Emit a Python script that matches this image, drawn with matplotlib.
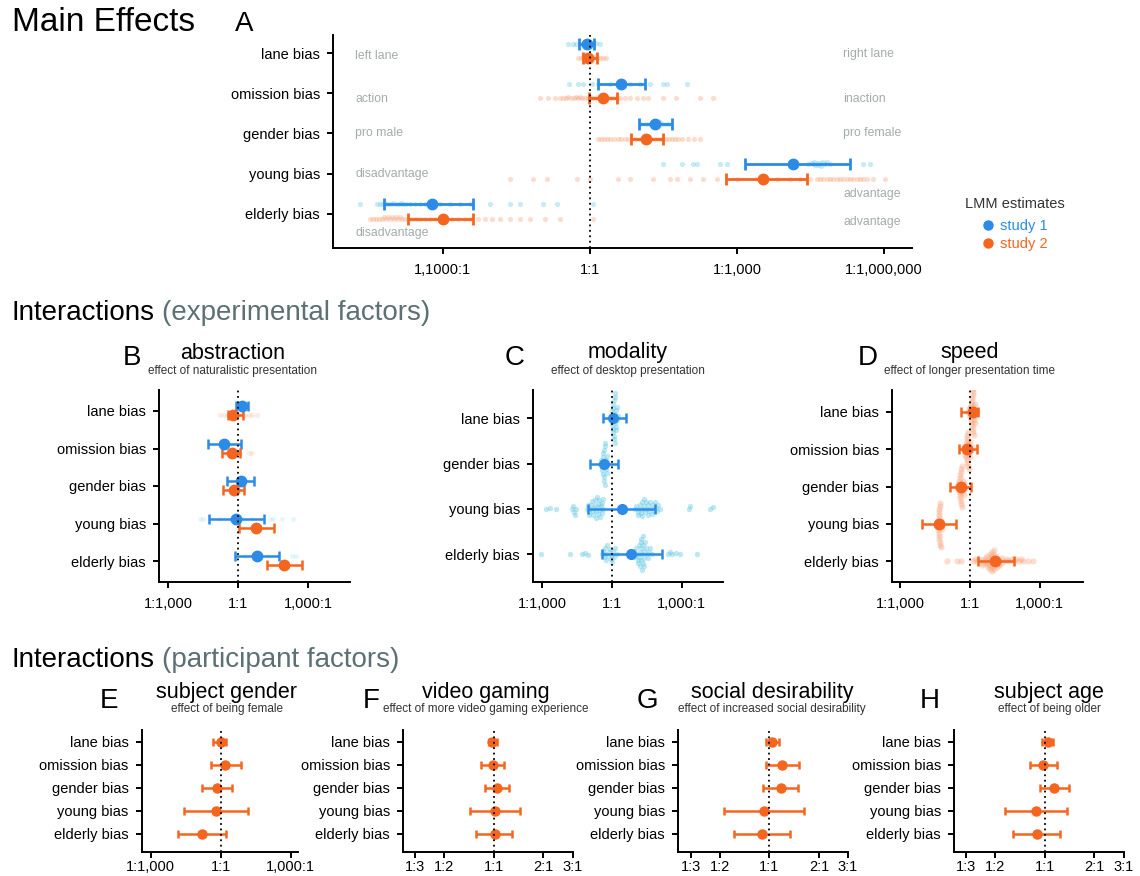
import numpy as np
import matplotlib
matplotlib.use("Agg")
import matplotlib.pyplot as plt

# ---------------- data (log10 odds ratios) ----------------
CATS5 = ["lane bias", "omission bias", "gender bias", "young bias", "elderly bias"]
CATS4 = ["lane bias", "gender bias", "young bias", "elderly bias"]

# Panel A main effects
A_s1_est = [-0.06, 0.63, 1.33, 4.14, -3.22]
A_s1_lo = [-0.22, 0.16, 1.00, 3.16, -4.20]
A_s1_hi = [0.08, 1.12, 1.67, 5.31, -2.39]
A_s2_est = [-0.04, 0.27, 1.14, 3.53, -3.00]
A_s2_lo = [-0.14, -0.02, 0.84, 2.78, -3.71]
A_s2_hi = [0.14, 0.55, 1.49, 4.43, -2.39]

A_s1_ind = [
    [-0.45, -0.35, -0.28, -0.2, -0.15, -0.12, -0.1, -0.08, -0.06, -0.04, -0.02, 0.0, 0.03, 0.07, 0.12, 0.2],
    [-0.43, -0.24, -0.14, 0.04, 0.16, 0.41, 0.61, 0.65, 0.82, 1.02, 1.22, 1.49, 1.57, 1.98],
    [1.05, 1.15, 1.22, 1.27, 1.3, 1.33, 1.35, 1.38, 1.42, 1.48, 1.55, 1.62],
    [1.49, 1.88, 2.1, 2.18, 2.65, 2.8, 4.45, 4.5, 4.55, 4.58, 4.6, 4.63, 4.66, 4.7, 4.72, 4.75,
     4.8, 4.84, 4.9, 5.57, 5.71],
    [-4.69, -4.35, -4.29, -4.22, -4.18, -4.12, -4.06, -4.02, -3.96, -3.9, -3.86, -3.82, -3.76, -3.67,
     -3.57, -3.47, -3.37, -3.27, -3.06, -2.86, -2.65, -2.45, -2.04, -1.63, -1.43, -0.96, -0.67, 0.06],
]
A_s2_ind = [
    [-0.25, -0.18, -0.14, -0.1, -0.08, -0.06, -0.04, -0.02, 0.0, 0.02, 0.04, 0.07, 0.1, 0.14, 0.2, 0.26, 0.33],
    [-1.02, -0.86, -0.71, -0.61, -0.55, -0.49, -0.45, -0.39, -0.33, -0.29, -0.24, -0.2, -0.16, -0.1, -0.04,
     0.0, 0.04, 0.1, 0.16, 0.2, 0.27, 0.33, 0.41, 0.47, 0.55, 0.61, 0.71, 0.82, 0.96, 1.08, 1.18, 1.49,
     1.76, 2.24, 2.51],
    [0.16, 0.22, 0.29, 0.35, 0.41, 0.49, 0.57, 0.63, 0.71, 0.78, 0.86, 0.94, 1.02, 1.1, 1.18, 1.27, 1.35,
     1.43, 1.49, 1.55, 1.61, 1.67, 1.73, 1.8, 1.88, 2.0, 2.12, 2.24],
    [-1.63, -1.16, -0.88, -0.27, 0.0, 0.57, 0.82, 1.29, 1.63, 1.78, 2.04, 2.31, 2.59, 3.0, 3.41, 3.82,
     4.08, 4.29, 4.49, 4.63, 4.69, 4.76, 4.84, 4.9, 4.96, 5.04, 5.1, 5.16, 5.24, 5.31, 5.37, 5.45, 5.51,
     5.57, 5.65, 5.78, 6.02],
    [-4.49, -4.43, -4.37, -4.31, -4.24, -4.2, -4.16, -4.12, -4.08, -4.04, -4.0, -3.96, -3.92, -3.88, -3.84,
     -3.78, -3.71, -3.63, -3.55, -3.47, -3.37, -3.27, -3.16, -3.06, -2.94, -2.82, -2.69, -2.55, -2.45,
     -2.29, -2.14, -2.0, -1.84, -1.63, -1.43, -1.22, -0.92, -0.61, 0.06],
]
A_left_notes = ["left lane", "action", "pro male", "disadvantage", "disadvantage"]
A_right_notes = ["right lane", "inaction", "pro female", "advantage", "advantage"]
A_ticks = [-3, 0, 3, 6]
A_ticklabels = ["1,1000:1", "1:1", "1:1,000", "1:1,000,000"]

# Panel B abstraction
B_s1_est = [0.16, -0.60, 0.13, -0.09, 0.80]
B_s1_lo = [-0.10, -1.27, -0.49, -1.23, -0.13]
B_s1_hi = [0.42, 0.13, 0.70, 1.12, 1.76]
B_s2_est = [-0.20, -0.27, -0.17, 0.77, 1.97]
B_s2_lo = [-0.44, -0.67, -0.63, 0.06, 1.26]
B_s2_hi = [0.23, 0.09, 0.27, 1.52, 2.76]
B_s1_ind = [[], [], [], [-1.63, -1.5, -0.8, -0.3, 0.2, 0.6, 1.35, 1.5, 1.9, 2.36], [0.3, 0.6, 1.0, 1.3, 2.3, 2.5]]
B_s2_ind = [[-0.77, -0.6, -0.45, -0.35, -0.25, -0.15, -0.05, 0.05, 0.15, 0.3, 0.45, 0.6, 0.8],
            [-0.5, -0.3, -0.1, 0.1, 0.45, 0.6], [], [], []]

# Panel C modality (study 1)
C_est = [0.06, -0.33, 0.42, 0.82]
C_lo = [-0.40, -0.95, -1.04, -0.44]
C_hi = [0.60, 0.24, 1.85, 2.16]
C_ind = [
    [-0.05, -0.02, 0.0, 0.01, 0.02, 0.03, 0.04, 0.05, 0.06, 0.07, 0.08, 0.09, 0.1, 0.11, 0.12, 0.13,
     0.14, 0.15, 0.16, 0.17, 0.18, 0.2, 0.22, 0.25],
    [-0.5, -0.46, -0.43, -0.41, -0.4, -0.38, -0.37, -0.36, -0.35, -0.34, -0.33, -0.32, -0.31, -0.3,
     -0.28, -0.26, -0.24, -0.22, -0.2, -0.15],
    [-2.82, -2.67, -2.4, -1.74, -1.67, -1.59, -1.55, -1.65,
     -1.09, -1.05, -1.0, -0.97, -0.93, -0.9, -0.87, -0.83, -0.8, -0.77, -0.74, -0.72, -0.7, -0.67, -0.65,
     -0.62, -0.6, -0.58, -0.55, -0.52, -0.5, -0.47, -0.45, -0.42, -0.4, -0.37,
     1.0, 1.05, 1.1, 1.14, 1.18, 1.22, 1.25, 1.28, 1.31, 1.34, 1.37, 1.4, 1.43, 1.46, 1.5, 1.53, 1.56,
     1.6, 1.64, 1.68, 1.72, 1.76, 1.8, 1.85, 1.9, 1.95, 2.0, 2.07, 3.3, 3.37, 4.22, 4.35],
    [-3.05, -1.82, -1.31, -1.16, -1.02,
     -0.45, -0.4, -0.35, -0.3, -0.25, -0.2, -0.15, -0.1, -0.05, 0.0, 0.05, 0.1, 0.15, 0.2, -0.28, -0.12, 0.02,
     0.9, 0.95, 1.0, 1.05, 1.08, 1.1, 1.13, 1.15, 1.18, 1.2, 1.22, 1.25, 1.27, 1.3, 1.32, 1.35, 1.38, 1.4,
     1.43, 1.45, 1.5, 1.55, 1.6, 1.65, 1.71, 1.24, 1.28, 1.26, 1.34, 1.36,
     2.4, 2.5, 2.6, 2.75, 2.93, 3.64],
]

# Panel D speed (study 2)
D_est = [0.11, -0.12, -0.40, -1.33, 1.08]
D_lo = [-0.39, -0.47, -0.86, -2.08, 0.33]
D_hi = [0.36, 0.32, 0.04, -0.60, 1.90]
D_ind = [
    [-0.09, -0.05, -0.02, 0.0, 0.02, 0.04, 0.05, 0.06, 0.07, 0.08, 0.09, 0.1, 0.1, 0.11, 0.11, 0.12, 0.12,
     0.13, 0.13, 0.14, 0.15, 0.16, 0.17, 0.18, 0.2, 0.22, 0.25, 0.3],
    [-0.3, -0.25, -0.22, -0.2, -0.18, -0.17, -0.15, -0.14, -0.13, -0.12, -0.12, -0.11, -0.1, -0.1, -0.09,
     -0.08, -0.07, -0.06, -0.04, -0.02, 0.0, 0.02, 0.05, 0.09],
    [-0.56, -0.52, -0.5, -0.47, -0.46, -0.44, -0.43, -0.42, -0.41, -0.41, -0.4, -0.4, -0.39, -0.38, -0.38,
     -0.37, -0.36, -0.34, -0.32, -0.3, -0.27, -0.24, -0.2, -0.35],
    [-1.42, -1.39, -1.37, -1.36, -1.35, -1.34, -1.34, -1.33, -1.33, -1.32, -1.32, -1.31, -1.31, -1.3, -1.29,
     -1.28, -1.27, -1.25, -1.22, -1.2],
    [-1.0, -0.56, -0.4, 0.13, 0.2, 0.3, 0.4, 0.45, 0.5, 0.55, 0.6, 0.65, 0.7, 0.72, 0.75, 0.78, 0.8, 0.82,
     0.85, 0.88, 0.9, 0.92, 0.95, 0.97, 1.0, 1.02, 1.05, 1.08, 1.1, 1.12, 1.15, 1.18, 1.2, 1.25, 1.3, 1.35,
     1.4, 1.5, 1.6, 1.7, 1.8, 1.9, 2.0, 2.1, 2.2, 2.3, 2.5, 2.7, 0.87, 0.93, 0.98, 1.03],
]
BIG_ticks = [-3, 0, 3]
BIG_ticklabels = ["1:1,000", "1:1", "1,000:1"]

# Panels E-H participant factors (study 2)
E_est = [0.0, 0.18, -0.17, -0.20, -0.79]
E_lo = [-0.31, -0.43, -0.81, -1.56, -1.84]
E_hi = [0.23, 0.86, 0.47, 1.16, 0.23]
F_est = [-0.008, -0.004, 0.02, 0.006, 0.006]
F_lo = [-0.03, -0.074, -0.05, -0.14, -0.108]
F_hi = [0.02, 0.062, 0.092, 0.16, 0.11]
G_est = [0.018, 0.078, 0.069, -0.032, -0.046]
G_lo = [-0.022, -0.022, -0.036, -0.273, -0.213]
G_hi = [0.06, 0.18, 0.171, 0.211, 0.125]
H_est = [0.02, -0.01, 0.058, -0.052, -0.046]
H_lo = [-0.016, -0.086, -0.026, -0.237, -0.19]
H_hi = [0.054, 0.075, 0.145, 0.135, 0.095]
SMALL_ratios = [1 / 3, 1 / 2, 1, 2, 3]
SMALL_ticklabels = ["1:3", "1:2", "1:1", "2:1", "3:1"]

# ---------------- style ----------------
BLUE = "#2b8be6"
ORANGE = "#f4651f"
BLUE_L = "#5cc6e2"
ORANGE_L = "#f7a075"
NOTE = "#a3abab"
HEAD_GRAY = "#5d7074"

W, H = 1140, 876
plt.rcParams["font.family"] = ["Liberation Sans", "DejaVu Sans"]
fig = plt.figure(figsize=(W / 100, H / 100), dpi=100)


def add_ax(l, t, r, b):
    return fig.add_axes([l / W, 1 - b / H, (r - l) / W, (b - t) / H])


def T(x, y, s, **kw):
    return fig.text(x / W, 1 - y / H, s, **kw)


def style(ax, xlim, ylim, ticks, ticklabels, cats, xpad=6):
    ax.set_xlim(*xlim)
    ax.set_ylim(*ylim)
    for s in ["top", "right"]:
        ax.spines[s].set_visible(False)
    for s in ["left", "bottom"]:
        ax.spines[s].set_linewidth(1.4)
    ax.tick_params(width=1.4, length=4.5, labelsize=10.5, colors="black")
    ax.tick_params(axis="x", pad=xpad)
    ax.tick_params(axis="y", pad=5)
    ax.set_xticks(ticks)
    ax.set_xticklabels(ticklabels)
    ax.set_yticks(range(len(cats)))
    ax.set_yticklabels(cats)
    ax.axvline(0, color="black", ls=(0, (1, 2)), lw=1.3, zorder=6)
    ax.patch.set_alpha(0)


def swarm(xpix, d):
    xpix = np.asarray(xpix, float)
    res = np.zeros(len(xpix))
    placed = []
    for i in np.argsort(xpix, kind="stable"):
        x = xpix[i]
        nb = [(px, py) for px, py in placed if abs(px - x) < d]
        cands = [0.0]
        for px, py in nb:
            dy = np.sqrt(max(d * d - (px - x) ** 2, 0))
            cands += [py + dy, py - dy]
        cands.sort(key=lambda c: (abs(c), c))
        for c in cands:
            if all((px - x) ** 2 + (py - c) ** 2 >= d * d - 1e-6 for px, py in nb):
                res[i] = c
                placed.append((x, c))
                break
    return res


def draw_swarm(ax, vals, yc, sx, sy, d, color, size, alpha):
    if len(vals) == 0:
        return
    v = np.asarray(vals, float)
    off = swarm(v * sx, d)
    ax.scatter(v, yc + off / sy, s=size, color=color, alpha=alpha, lw=0, zorder=2)


def draw_est(ax, est, lo, hi, ys, color, ms, lw, cap):
    est, lo, hi = map(np.asarray, (est, lo, hi))
    ax.errorbar(est, ys, xerr=[est - lo, hi - est], fmt="o", color=color, ms=ms,
                elinewidth=lw, capsize=cap, capthick=lw, zorder=4)


# ---------------- Panel A ----------------
l, t, r, b = 333, 35, 912, 248
axA = add_ax(l, t, r, b)
xl, yl = (-5.24, 6.57), (4.85, -0.45)
style(axA, xl, yl, A_ticks, A_ticklabels, CATS5)
sx = (r - l) / (xl[1] - xl[0]); sy = (b - t) / (yl[0] - yl[1])
for i in range(5):
    draw_swarm(axA, A_s1_ind[i], i - 0.235, sx, sy, 2.6, BLUE_L, 14, 0.35)
    draw_swarm(axA, A_s2_ind[i], i + 0.13, sx, sy, 2.6, ORANGE_L, 14, 0.35)
ys = np.arange(5)
draw_est(axA, A_s1_est, A_s1_lo, A_s1_hi, ys - 0.235, BLUE, 7.5, 2.0, 4)
draw_est(axA, A_s2_est, A_s2_lo, A_s2_hi, ys + 0.13, ORANGE, 7.5, 2.0, 4)

note_y_left = [59, 102, 136, 177, 236]
note_y_right = [57, 102, 136, 197, 225]
for s, y in zip(A_left_notes, note_y_left):
    T(355, y, s, color=NOTE, fontsize=8.8, va="baseline")
for s, y in zip(A_right_notes, note_y_right):
    T(843, y, s, color=NOTE, fontsize=8.8, va="baseline")

T(12, 31, "Main Effects", fontsize=24, va="baseline")
T(235, 31, "A", fontsize=20, va="baseline")

# legend
T(965, 208, "LMM estimates", fontsize=10.5, color="#333333", va="baseline")
fig.lines.append(plt.Line2D([988 / W], [1 - 225 / H], marker="o", ms=6.5, color=BLUE,
                            transform=fig.transFigure, ls=""))
fig.lines.append(plt.Line2D([988 / W], [1 - 243 / H], marker="o", ms=6.5, color=ORANGE,
                            transform=fig.transFigure, ls=""))
T(1000, 230, "study 1", fontsize=10.5, color=BLUE, va="baseline")
T(1000, 248, "study 2", fontsize=10.5, color=ORANGE, va="baseline")


# ---------------- section headings ----------------
def heading(y, a, bpart):
    t1 = T(12, y, a, fontsize=20, va="baseline")
    fig.canvas.draw()
    bb = t1.get_window_extent()
    T(bb.x1 + 7, y, bpart, fontsize=20, va="baseline", color=HEAD_GRAY)


heading(320, "Interactions", "(experimental factors)")
heading(667, "Interactions", "(participant factors)")

letter_lookup = {"abstraction": "B", "modality": "C", "speed": "D", "subject gender": "E",
                 "video gaming": "F", "social desirability": "G", "subject age": "H"}


def titles(letter_x, center_x, title, sub, base_letter, base_title, base_sub):
    T(letter_x, base_letter, letter_lookup[title], fontsize=20, va="baseline")
    T(center_x, base_title, title, fontsize=15.5, ha="center", va="baseline")
    T(center_x, base_sub, sub, fontsize=8.5, ha="center", va="baseline", color="#333333")


# ---------------- Panel B ----------------
l, t, r, b = 159, 390, 350, 582
axB = add_ax(l, t, r, b)
xl, yl = (-3.39, 4.8), (4.56, -0.56)
style(axB, xl, yl, BIG_ticks, BIG_ticklabels, CATS5)
sx = (r - l) / (xl[1] - xl[0]); sy = (b - t) / (yl[0] - yl[1])
for i in range(5):
    draw_swarm(axB, B_s1_ind[i], i - 0.13, sx, sy, 2.5, BLUE_L, 14, 0.15)
    draw_swarm(axB, B_s2_ind[i], i + 0.11, sx, sy, 2.5, ORANGE_L, 14, 0.2)
draw_est(axB, B_s1_est, B_s1_lo, B_s1_hi, ys - 0.13, BLUE, 7.5, 1.8, 3.5)
draw_est(axB, B_s2_est, B_s2_lo, B_s2_hi, ys + 0.11, ORANGE, 7.5, 1.8, 3.5)
titles(123, 233, "abstraction", "effect of naturalistic presentation", 365, 359, 374)

# ---------------- Panel C ----------------
l, t, r, b = 533, 390, 723, 582
axC = add_ax(l, t, r, b)
xl, yl = (-3.4, 4.78), (3.61, -0.62)
style(axC, xl, yl, BIG_ticks, BIG_ticklabels, CATS4)
sx = (r - l) / (xl[1] - xl[0]); sy = (b - t) / (yl[0] - yl[1])
for i in range(4):
    draw_swarm(axC, C_ind[i], i, sx, sy, 3.6, BLUE_L, 15, 0.4)
draw_est(axC, C_est, C_lo, C_hi, np.arange(4), BLUE, 7, 1.8, 3.5)
titles(505, 628, "modality", "effect of desktop presentation", 365, 358, 374)

# ---------------- Panel D ----------------
l, t, r, b = 892, 390, 1083, 582
axD = add_ax(l, t, r, b)
xl, yl = (-3.36, 4.87), (4.56, -0.59)
style(axD, xl, yl, BIG_ticks, BIG_ticklabels, CATS5)
sx = (r - l) / (xl[1] - xl[0]); sy = (b - t) / (yl[0] - yl[1])
for i in range(5):
    draw_swarm(axD, D_ind[i], i, sx, sy, 3.0, ORANGE_L, 20, 0.35)
draw_est(axD, D_est, D_lo, D_hi, ys, ORANGE, 7.5, 1.8, 3.5)
titles(858, 970, "speed", "effect of longer presentation time", 365, 358, 374)

# ---------------- Panels E-H ----------------
small_ticks = list(np.log10(SMALL_ratios))
row_specs = [
    (141.7, 298, (-3.39, 3.32), BIG_ticks, BIG_ticklabels, E_est, E_lo, E_hi,
     100, 227, "subject gender", "effect of being female"),
    (403, 573, (-0.548, 0.48), small_ticks, SMALL_ticklabels, F_est, F_lo, F_hi,
     363, 486, "video gaming", "effect of more video gaming experience"),
    (678.3, 848.3, (-0.552, 0.479), small_ticks, SMALL_ticklabels, G_est, G_lo, G_hi,
     637, 772, "social desirability", "effect of increased social desirability"),
    (954.3, 1124, (-0.545, 0.48), small_ticks, SMALL_ticklabels, H_est, H_lo, H_hi,
     920, 1049, "subject age", "effect of being older"),
]
for (l, r, xl, tk, tl, est, lo, hi, lx, cx, title, sub) in row_specs:
    ax = add_ax(l, 730, r, 852)
    style(ax, xl, (4.87 - 2 / 23, -0.52), tk, tl, CATS5, xpad=1.0)
    draw_est(ax, est, lo, hi, ys, ORANGE, 6.5, 1.8, 3)
    titles(lx, cx, title, sub, 708, 698, 712)

fig.savefig("out.png", dpi=100)
